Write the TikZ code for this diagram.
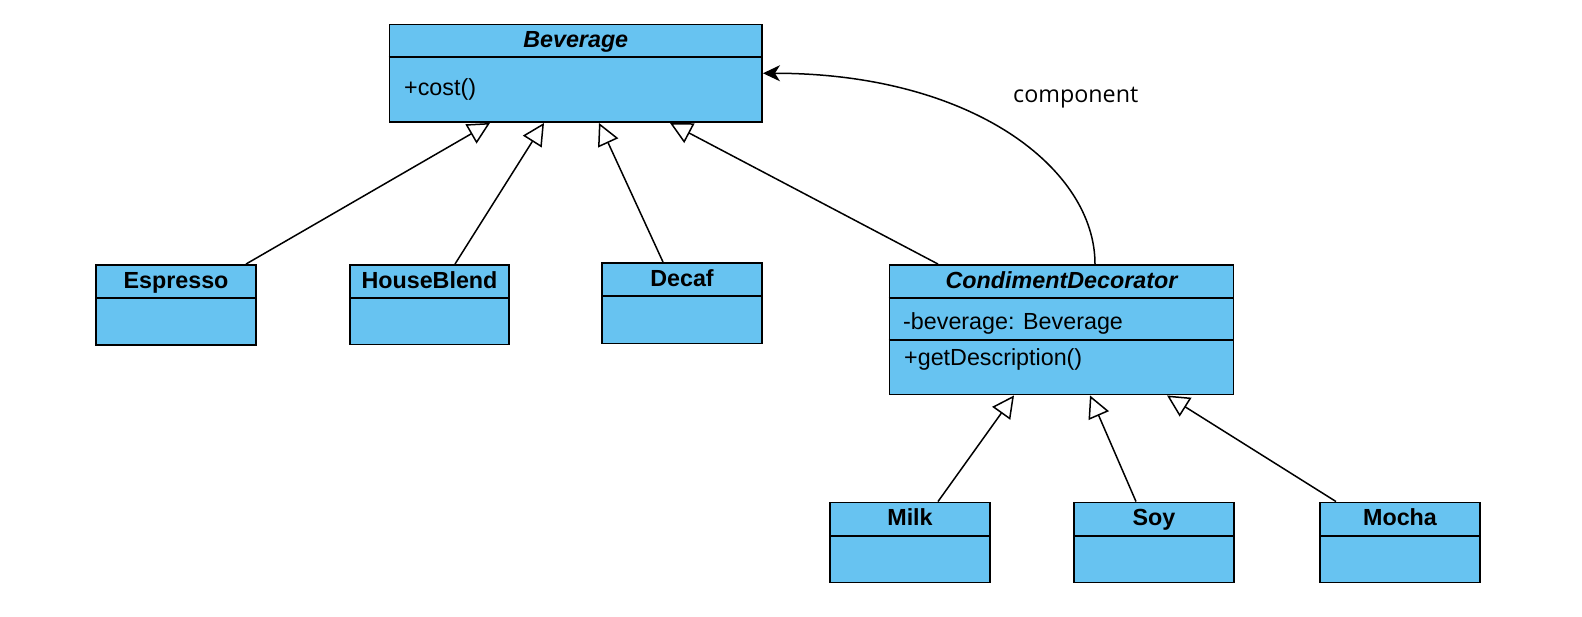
\documentclass[tikz,border=0pt]{standalone}
\usepackage{fontspec}
\setmainfont{Liberation Sans}
\newfontfamily\notefont{Open Sans}
\usetikzlibrary{arrows.meta,positioning,calc}
\definecolor{classblue}{RGB}{103,195,241}

\begin{document}
\begin{tikzpicture}[x=1pt, y=-1pt,
    cls/.style={draw, fill=classblue, line width=1.9pt, inner sep=0pt},
    classtitle/.style={anchor=base, inner sep=0pt, font=\fontsize{23.3}{28}\selectfont\bfseries},
    abstracttitle/.style={classtitle, font=\fontsize{23.3}{28}\selectfont\bfseries\itshape},
    member/.style={anchor=base west, inner sep=0pt, font=\fontsize{23.3}{28}\selectfont},
    divider/.style={line width=1.9pt},
    inherit/.style={-{Triangle[open, length=22pt, width=22pt]}, line width=1.5pt},
    assoc/.style={-{Stealth[length=17pt, width=16pt, inset=5pt]}, line width=1.5pt}]
  \useasboundingbox (0,0) rectangle (1582,616);

  % Beverage
  \node[cls, minimum width=372.5pt, minimum height=97.5pt] (beverage) at (575.75,73.25) {};
  \draw[divider] ([yshift=-33pt]beverage.north west) -- ([yshift=-33pt]beverage.north east);
  \node[abstracttitle] (beveragetitle) at (575.75,47.5) {Beverage};
  \node[member] (cost) at (404,95) {+cost()};

  % concrete beverages
  \node[cls, minimum width=160pt, minimum height=80pt] (espresso) at (176,305) {};
  \draw[divider] ([yshift=-34pt]espresso.north west) -- ([yshift=-34pt]espresso.north east);
  \node[classtitle] (espressotitle) at (176,288) {Espresso};

  \node[cls, minimum width=159pt, minimum height=79.5pt] (houseblend) at (429.5,304.75) {};
  \draw[divider] ([yshift=-33.5pt]houseblend.north west) -- ([yshift=-33.5pt]houseblend.north east);
  \node[classtitle] (houseblendtitle) at (429.5,288) {HouseBlend};

  \node[cls, minimum width=160pt, minimum height=80.5pt] (decaf) at (682,303.25) {};
  \draw[divider] ([yshift=-34pt]decaf.north west) -- ([yshift=-34pt]decaf.north east);
  \node[classtitle] (decaftitle) at (682,286) {Decaf};

  % CondimentDecorator
  \node[cls, minimum width=344pt, minimum height=129.5pt] (decorator) at (1061.5,329.75) {};
  \draw[divider] ([yshift=-33.5pt]decorator.north west) -- ([yshift=-33.5pt]decorator.north east);
  \draw[divider] ([yshift=-76pt]decorator.north west) -- ([yshift=-76pt]decorator.north east);
  \node[abstracttitle] (decoratortitle) at (1061.5,288) {CondimentDecorator};
  \node[member] (field) at (903,329) {-beverage: Beverage};
  \node[member] (describe) at (904,365.5) {+getDescription()};

  % condiments
  \node[cls, minimum width=160pt, minimum height=80pt] (milk) at (910,542.5) {};
  \draw[divider] ([yshift=-34pt]milk.north west) -- ([yshift=-34pt]milk.north east);
  \node[classtitle] (milktitle) at (910,525.5) {Milk};

  \node[cls, minimum width=160pt, minimum height=80pt] (soy) at (1154,542.5) {};
  \draw[divider] ([yshift=-34pt]soy.north west) -- ([yshift=-34pt]soy.north east);
  \node[classtitle] (soytitle) at (1154,525.5) {Soy};

  \node[cls, minimum width=160pt, minimum height=80pt] (mocha) at (1400,542.5) {};
  \draw[divider] ([yshift=-34pt]mocha.north west) -- ([yshift=-34pt]mocha.north east);
  \node[classtitle] (mochatitle) at (1400,525.5) {Mocha};

  % generalisation
  \draw[inherit] ([xshift=70pt]espresso.north) -- ([xshift=-85.75pt]beverage.south);
  \draw[inherit] ([xshift=25.5pt]houseblend.north) -- ([xshift=-31.75pt]beverage.south);
  \draw[inherit] ([xshift=-19pt]decaf.north) -- ([xshift=23.25pt]beverage.south);
  \draw[inherit] ([xshift=-123.5pt]decorator.north) -- ([xshift=94.25pt]beverage.south);
  \draw[inherit] ([xshift=28pt]milk.north) -- ([xshift=-47.5pt]decorator.south);
  \draw[inherit] ([xshift=-18pt]soy.north) -- ([xshift=28.5pt]decorator.south);
  \draw[inherit] ([xshift=-64pt]mocha.north) -- ([xshift=105.5pt]decorator.south);

  % wrapped component
  \draw[assoc] ([xshift=33.5pt]decorator.north) .. controls +(0,-95) and +(210,0) .. (beverage.east);
  \node[anchor=base west, inner sep=0pt, font=\notefont\fontsize{23.3}{28}\selectfont] (complabel) at (1013,102) {component};
\end{tikzpicture}
\end{document}
